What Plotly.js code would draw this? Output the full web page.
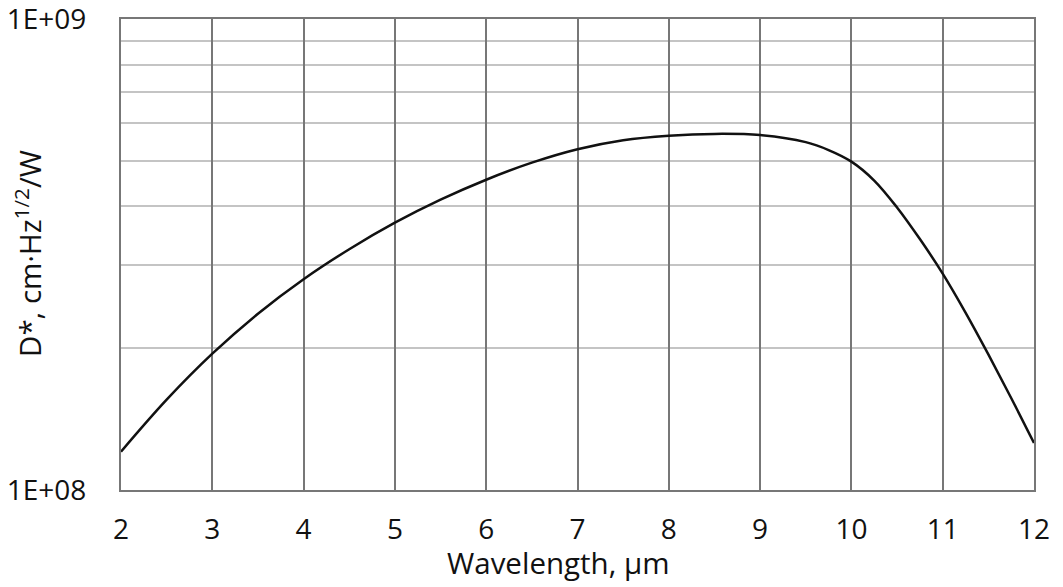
<!DOCTYPE html>
<html>
<head>
<meta charset="utf-8">
<script src="https://cdn.plot.ly/plotly-3.0.1.min.js"></script>
<style>
  html, body { margin: 0; padding: 0; background: #fff; }
  #chart { width: 1063px; height: 587px; }
</style>
</head>
<body>
<div id="chart"></div>
<script>
// wavelength in µm, detectivity D* in cm·Hz^1/2/W
const wavelength = [2, 2.5, 3, 3.5, 4, 4.5, 5, 5.5, 6, 6.5, 7, 7.5, 8, 8.5, 9, 9.5, 9.75, 10, 10.25, 10.5, 10.75, 11, 11.25, 11.5, 11.75, 12];
const dstar = [1.206e8, 1.555e8, 1.947e8, 2.368e8, 2.803e8, 3.245e8, 3.694e8, 4.134e8, 4.558e8, 4.954e8, 5.29e8, 5.529e8, 5.652e8, 5.703e8, 5.67e8, 5.477e8, 5.27e8, 4.98e8, 4.54e8, 3.98e8, 3.41e8, 2.88e8, 2.38e8, 1.94e8, 1.568e8, 1.258e8];

const xTicks = [2, 3, 4, 5, 6, 7, 8, 9, 10, 11, 12];
const yTicks = [1e8, 1e9];
const yTickText = ['1E+08', '1E+09'];
const yMinor = [2e8, 3e8, 4e8, 5e8, 6e8, 7e8, 8e8, 9e8];

const tickFont = { family: 'Open Sans, sans-serif', size: 28, color: '#111' };
const titleFont = { family: 'Open Sans, sans-serif', size: 29.5, color: '#111' };

const trace = {
    type: 'scatter',
    x: wavelength,
    y: dstar,
    mode: 'lines',
    line: { color: '#111', width: 2.5, shape: 'spline', smoothing: 1 },
    hoverinfo: 'x+y',
};

const layout = {
    width: 1063,
    height: 587,
    margin: { l: 121, r: 29, t: 19, b: 97 },
    paper_bgcolor: '#fff',
    plot_bgcolor: '#fff',
    showlegend: false,
    font: tickFont,
    xaxis: {
        range: [2, 12],
        tickvals: xTicks,
        ticks: '',
        ticklabelstandoff: 13,
        showgrid: true,
        gridcolor: '#777',
        gridwidth: 2,
        zeroline: false,
        showline: true,
        linecolor: '#777',
        linewidth: 2,
        mirror: true,
        tickfont: tickFont,
    },
    yaxis: {
        type: 'log',
        range: [8, 9.000001],
        tickvals: yTicks,
        ticktext: yTickText,
        ticks: '',
        ticklabelstandoff: 27,
        ticklabeloverflow: 'allow',
        showgrid: true,
        gridcolor: '#777',
        gridwidth: 2,
        zeroline: false,
        showline: true,
        linecolor: '#777',
        linewidth: 2,
        mirror: true,
        tickfont: tickFont,
        minor: {
            tickvals: yMinor,
            showgrid: true,
            gridcolor: '#c4c4c4',
            gridwidth: 2,
            ticks: '',
        },
    },
    annotations: [
        {
            text: 'Wavelength, µm',
            xref: 'paper', yref: 'paper',
            x: 0.479, y: 0,
            yshift: -72,
            xanchor: 'center', yanchor: 'middle',
            showarrow: false,
            font: titleFont,
        },
        {
            text: 'D*, cm·Hz<sup>1/2</sup>/W',
            xref: 'paper', yref: 'paper',
            x: 0, y: 0.501,
            xshift: -93,
            xanchor: 'center', yanchor: 'middle',
            textangle: -90,
            showarrow: false,
            font: titleFont,
        },
    ],
};

Plotly.newPlot('chart', [trace], layout, { displayModeBar: false, staticPlot: true });
</script>
</body>
</html>
